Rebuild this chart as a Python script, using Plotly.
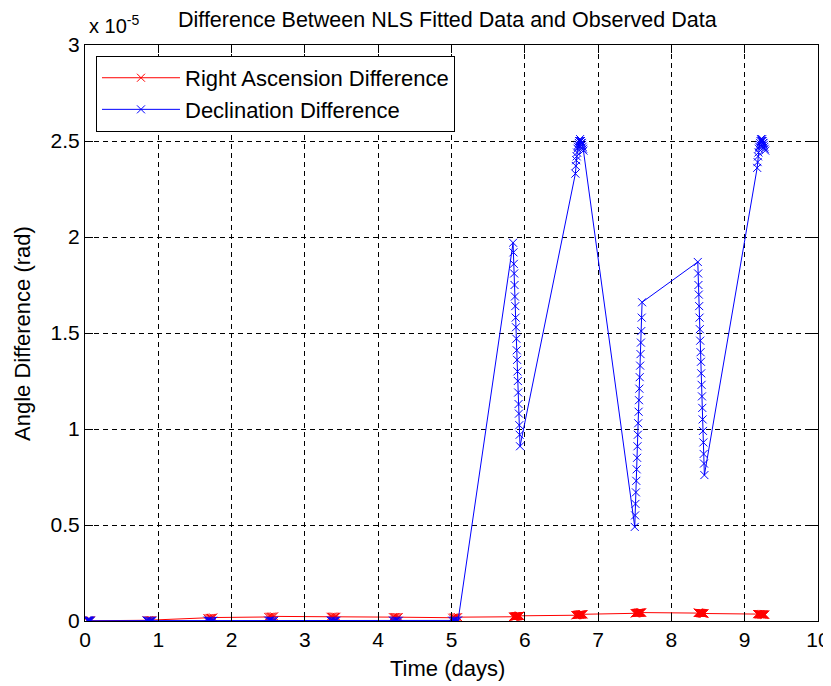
import plotly.graph_objects as go

# ---- data (angle differences in units of 1e-5 rad) ----
time_days = [
    # pass 1
    0.030, 0.040, 0.050, 0.060, 0.070, 0.080,
    # pass 2
    0.840, 0.856, 0.872, 0.888, 0.904, 0.920,
    # pass 3
    1.670, 1.686, 1.702, 1.718, 1.734, 1.750,
    # pass 4
    2.500, 2.516, 2.532, 2.548, 2.564, 2.580,
    # pass 5
    3.350, 3.366, 3.382, 3.398, 3.414, 3.430,
    # pass 6
    4.200, 4.216, 4.232, 4.248, 4.264, 4.280,
    # pass 7
    5.010, 5.026, 5.042, 5.058, 5.074, 5.090,
    # pass 8
    5.840, 5.845, 5.850, 5.855, 5.860, 5.865, 5.870, 5.875, 5.880, 5.885,
    5.890, 5.895, 5.900, 5.905, 5.910, 5.915, 5.920, 5.925, 5.930, 5.935,
    # pass 9
    6.690, 6.696, 6.702, 6.708, 6.713, 6.719, 6.725, 6.731, 6.737, 6.742,
    6.748, 6.754, 6.760, 6.766, 6.771, 6.777, 6.783, 6.789, 6.795, 6.800,
    # pass 10
    7.500, 7.505, 7.510, 7.516, 7.521, 7.526, 7.532, 7.537, 7.542, 7.547,
    7.553, 7.558, 7.563, 7.568, 7.574, 7.579, 7.584, 7.589, 7.595, 7.600,
    # pass 11
    8.360, 8.365, 8.369, 8.374, 8.379, 8.384, 8.388, 8.393, 8.398, 8.403,
    8.407, 8.412, 8.417, 8.421, 8.426, 8.431, 8.436, 8.440, 8.445, 8.450,
    # pass 12
    9.170, 9.176, 9.182, 9.187, 9.193, 9.199, 9.205, 9.210, 9.216, 9.222,
    9.228, 9.234, 9.239, 9.245, 9.251, 9.257, 9.262, 9.268, 9.274, 9.280,
]

ra_diff_e5 = [
    0.001, 0.001, 0.002, 0.002, 0.002, 0.003,
    0.003, 0.003, 0.004, 0.004, 0.004, 0.005,
    0.014, 0.015, 0.016, 0.016, 0.017, 0.018,
    0.021, 0.022, 0.022, 0.023, 0.023, 0.024,
    0.022, 0.022, 0.023, 0.023, 0.022, 0.022,
    0.020, 0.020, 0.021, 0.021, 0.020, 0.020,
    0.017, 0.018, 0.018, 0.019, 0.019, 0.020,
    0.022, 0.022, 0.023, 0.023, 0.023, 0.024, 0.024, 0.024, 0.025, 0.025,
    0.025, 0.025, 0.026, 0.026, 0.026, 0.026, 0.027, 0.027, 0.027, 0.027,
    0.030, 0.030, 0.031, 0.031, 0.031, 0.032, 0.032, 0.032, 0.033, 0.033,
    0.033, 0.033, 0.034, 0.034, 0.034, 0.034, 0.035, 0.035, 0.035, 0.035,
    0.040, 0.040, 0.041, 0.041, 0.041, 0.042, 0.042, 0.042, 0.042, 0.043,
    0.043, 0.043, 0.043, 0.043, 0.044, 0.044, 0.044, 0.044, 0.044, 0.044,
    0.043, 0.043, 0.043, 0.043, 0.042, 0.042, 0.042, 0.042, 0.042, 0.041,
    0.041, 0.041, 0.041, 0.040, 0.040, 0.040, 0.040, 0.039, 0.039, 0.039,
    0.036, 0.036, 0.036, 0.036, 0.035, 0.035, 0.035, 0.035, 0.035, 0.035,
    0.034, 0.034, 0.034, 0.034, 0.034, 0.034, 0.033, 0.033, 0.033, 0.033,
]

dec_diff_e5 = [
    0.004, 0.003, 0.003, 0.002, 0.002, 0.001,
    0.002, 0.002, 0.002, 0.001, 0.001, 0.001,
    0.002, 0.002, 0.001, 0.001, 0.001, 0.001,
    0.002, 0.002, 0.002, 0.001, 0.001, 0.001,
    0.002, 0.002, 0.001, 0.001, 0.001, 0.001,
    0.002, 0.002, 0.002, 0.002, 0.001, 0.001,
    0.002, 0.002, 0.002, 0.002, 0.002, 0.003,
    1.97, 1.92, 1.86, 1.81, 1.75, 1.69, 1.64, 1.58, 1.53, 1.47,
    1.41, 1.36, 1.30, 1.25, 1.19, 1.13, 1.08, 1.02, 0.97, 0.91,
    2.33, 2.37, 2.40, 2.42, 2.44, 2.46, 2.47, 2.48, 2.49, 2.50,
    2.50, 2.51, 2.50, 2.50, 2.49, 2.49, 2.48, 2.47, 2.46, 2.45,
    0.49, 0.55, 0.61, 0.67, 0.73, 0.79, 0.85, 0.91, 0.97, 1.03,
    1.09, 1.15, 1.21, 1.27, 1.33, 1.39, 1.45, 1.51, 1.58, 1.66,
    1.87, 1.81, 1.75, 1.70, 1.64, 1.58, 1.52, 1.46, 1.40, 1.35,
    1.29, 1.23, 1.17, 1.11, 1.05, 0.99, 0.93, 0.87, 0.82, 0.76,
    2.36, 2.39, 2.42, 2.44, 2.46, 2.47, 2.48, 2.49, 2.50, 2.51,
    2.50, 2.50, 2.51, 2.50, 2.49, 2.49, 2.48, 2.47, 2.46, 2.45,
]

y_tick_vals = [0, 0.5, 1, 1.5, 2, 2.5, 3]
y_tick_text = ["0", "0.5", "1", "1.5", "2", "2.5", "3"]
x_tick_vals = [0, 1, 2, 3, 4, 5, 6, 7, 8, 9, 10]

FONT = "Liberation Sans, Arial, sans-serif"

fig = go.Figure()
fig.add_trace(go.Scatter(
    x=time_days, y=ra_diff_e5, mode="lines+markers",
    name="Right Ascension Difference",
    line=dict(color="#ff0000", width=1),
    marker=dict(symbol="x-thin", size=8, color="#ff0000",
                line=dict(color="#ff0000", width=1)),
))
fig.add_trace(go.Scatter(
    x=time_days, y=dec_diff_e5, mode="lines+markers",
    name="Declination Difference",
    line=dict(color="#0000ff", width=1),
    marker=dict(symbol="x-thin", size=8, color="#0000ff",
                line=dict(color="#0000ff", width=1)),
))

axis_common = dict(
    showline=True, linecolor="black", linewidth=1, mirror="ticks",
    ticks="inside", ticklen=8, tickcolor="black", tickwidth=1,
    showgrid=True, gridcolor="black", gridwidth=1, griddash="5px,4px",
    zeroline=False, automargin=False,
    tickfont=dict(family=FONT, size=21, color="black"),
)

# the page body adds an 8px offset; the figure is sized to fill the rest
fig.update_layout(
    width=823, height=678,
    margin=dict(l=77, r=13, t=37, b=65, pad=0, autoexpand=False),
    paper_bgcolor="white", plot_bgcolor="white",
    font=dict(family=FONT, size=21, color="black"),
    xaxis=dict(range=[0, 10], tickvals=x_tick_vals, **axis_common),
    yaxis=dict(range=[0, 3], tickvals=y_tick_vals, ticktext=y_tick_text,
               **axis_common),
    showlegend=True,
    legend=dict(x=0.015, y=0.981, xanchor="left", yanchor="top",
                bgcolor="white", bordercolor="black", borderwidth=1,
                font=dict(family=FONT, size=22, color="black"),
                tracegroupgap=0, itemwidth=78),
    annotations=[
        dict(text="Difference Between NLS Fitted Data and Observed Data",
             xref="paper", yref="paper", x=0.495, y=1.043,
             xanchor="center", yanchor="middle", showarrow=False,
             font=dict(family=FONT, size=21.5, color="black")),
        dict(text="x 10<sup>-5</sup>",
             xref="paper", yref="paper", x=0.003, y=1.035,
             xanchor="left", yanchor="middle", showarrow=False,
             font=dict(family=FONT, size=20, color="black")),
        dict(text="Time (days)",
             xref="paper", yref="paper", x=0.4945, y=-0.0816,
             xanchor="center", yanchor="middle", showarrow=False,
             font=dict(family=FONT, size=22, color="black")),
        dict(text="Angle Difference (rad)", textangle=-90,
             xref="paper", yref="paper", x=-0.086, y=0.5,
             xanchor="center", yanchor="middle", showarrow=False,
             font=dict(family=FONT, size=22, color="black")),
    ],
)

fig.write_html("out.html")
